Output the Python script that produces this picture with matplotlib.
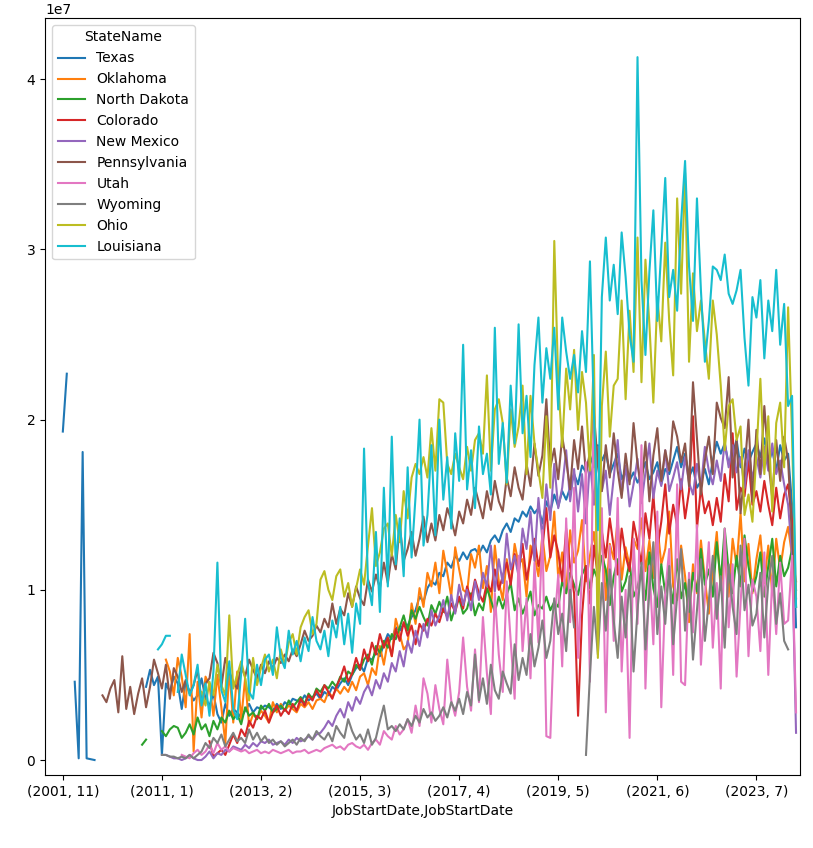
import numpy as np
import matplotlib
matplotlib.use("Agg")
import matplotlib.pyplot as plt

N = None
# (year, month) index: sparse early records, then monthly from 2011-01 to 2024-05
early_dates = [(2001, 11), (2001, 12), (2002, 3), (2002, 8), (2003, 1), (2003, 6), (2004, 2),
               (2004, 9), (2005, 3), (2005, 10), (2006, 2), (2006, 7), (2006, 11), (2007, 3),
               (2007, 8), (2007, 12), (2008, 4), (2008, 8), (2009, 1), (2009, 5), (2009, 9),
               (2010, 1), (2010, 5), (2010, 9), (2010, 12)]
monthly_dates = [(2011 + m // 12, m % 12 + 1) for m in range(161)]
dates = early_dates + monthly_dates

# values in millions; *_pre = early dates, main = monthly up to late 2023,
# *_late = the last months before the final three values
texas_pre = [19.3, 22.7, N, 4.6, 0.1, 18.1, 0.1, 0.05, 0.0] + [N] * 11 + [N, 4.3, 5.3, 4.4, 4.9]
texas = [0.3, 4.5, 4.0, 4.9, 4.5, 3.0, 4.6, 4.0, 3.5, 3.8,
         4.8, 3.6, 3.2, 3.9, 2.7, 2.2, 3.3, 2.6, 3.0, 2.8,
         2.5, 2.9, 3.3, 2.8, 3.1, 3.0, 3.2, 3.1, 2.9, 3.3,
         3.0, 3.4, 3.2, 3.6, 3.5, 3.4, 3.8, 3.5, 3.7, 3.9,
         3.6, 4.0, 3.8, 4.3, 4.1, 4.5, 4.8, 4.4, 5.0, 5.4,
         5.6, 5.2, 6.0, 5.9, 6.3, 6.1, 6.8, 7.4, 7.1, 7.8,
         7.6, 8.0, 7.9, 8.4, 8.8, 9.6, 9.3, 10.1, 10.5, 10.3,
         11.0, 10.8, 11.6, 11.3, 12.0, 11.7, 12.2, 11.8, 12.3, 12.4,
         12.1, 12.6, 12.2, 12.9, 13.2, 12.8, 13.5, 13.9, 13.4, 14.2,
         14.0, 14.6, 14.3, 14.9, 14.5, 14.8, 13.9, 15.2, 14.6, 15.6,
         14.9, 15.8, 15.3, 16.0, 16.8, 16.2, 17.3, 16.9, 17.9, 17.2,
         18.5, 17.6, 18.1, 16.8, 17.4, 18.0, 16.5, 17.0, 16.4, 16.9,
         16.3, 16.8, 17.5, 16.5, 16.9, 17.5, 16.2, 17.1, 16.8, 17.6,
         18.4, 17.2, 18.0, 16.6, 17.2, 16.0, 16.4, 17.1, 16.2, 17.6,
         18.7, 18.0, 18.6, 17.4, 18.0, 18.8, 17.2, 18.3, 17.5, 18.1,
         18.0, 15.0, 7.8]
texas_late = [18.6, 17.8, 18.9, 17.4, 18.2, 17.0, 18.5, 17.6]

oklahoma_pre = [N] * 25
oklahoma = [N, 5.9, 5.2, 3.8, 6.0, 4.9, 3.1, 7.4, 0.5, 4.6,
            2.5, 4.9, 4.4, 2.6, 5.0, 3.1, 1.0, 5.4, 2.2, 5.2,
            2.4, 4.8, 2.0, 2.7, 2.4, 2.9, 2.6, 2.2, 3.4, 2.8,
            3.3, 2.9, 3.2, 3.0, 2.8, 3.3, 3.1, 3.4, 3.0, 3.5,
            3.6, 3.4, 4.0, 3.7, 4.2, 3.9, 4.3, 4.0, 4.6, 4.1,
            4.9, 5.1, 4.4, 5.4, 5.0, 6.7, 5.6, 7.0, 6.1, 8.3,
            7.4, 6.5, 6.8, 9.2, 8.0, 10.1, 9.0, 11.0, 10.2, 11.6,
            9.8, 12.3, 11.0, 9.6, 12.5, 11.2, 10.0, 9.8, 12.1, 11.3,
            12.6, 10.1, 11.4, 8.7, 12.6, 10.5, 9.4, 11.8, 10.4, 12.7,
            11.5, 11.8, 9.6, 12.6, 12.0, 10.8, 13.2, 11.1, 12.0, 14.6,
            10.7, 12.2, 9.8, 13.5, 11.6, 12.3, 14.1, 10.5, 12.0, 13.4,
            10.9, 13.6, 9.4, 12.7, 11.8, 14.1, 10.6, 12.5, 11.4, 13.0,
            12.4, 14.2, 11.1, 12.9, 10.7, 13.8, 11.5, 12.4, 14.6, 10.2,
            9.4, 12.6, 10.8, 8.1, 11.5, 9.8, 12.9, 10.6, 8.6, 11.2,
            13.4, 10.0, 12.1, 9.6, 13.0, 11.4, 14.5, 10.5, 12.7, 9.8,
            13.7, 12.0, 10.5]
oklahoma_late = [11.8, 13.2, 10.4, 12.6, 9.8, 13.0, 11.2, 12.8]

north_dakota_pre = [N] * 20 + [0.9, 1.2, N, N, N]
north_dakota = [1.7, 1.4, 1.8, 2.0, 1.9, 1.3, 1.6, 2.1, 1.5, 2.5,
                1.8, 2.1, 1.4, 2.3, 1.8, 2.5, 2.2, 2.9, 2.4, 2.7,
                2.1, 3.1, 2.6, 2.8, 2.4, 3.2, 2.9, 3.3, 2.8, 3.0,
                3.2, 2.9, 3.5, 3.1, 3.4, 3.7, 3.3, 3.9, 3.6, 4.2,
                4.0, 4.4, 4.2, 4.6, 4.3, 4.9, 4.6, 5.2, 5.0, 5.6,
                5.3, 5.9, 6.2, 5.6, 6.7, 6.3, 7.0, 6.6, 7.4, 7.1,
                7.8, 8.5, 7.6, 8.8, 8.3, 9.0, 8.4, 7.9, 9.1, 8.6,
                9.3, 8.7, 9.6, 8.2, 9.0, 9.5, 8.6, 8.9, 9.8, 8.5,
                9.2, 8.8, 10.1, 9.4, 8.7, 9.6, 8.9, 9.7, 10.4, 8.8,
                9.5, 8.6, 9.2, 9.9, 8.5, 9.1, 8.9, 9.6, 8.8, 9.3,
                9.0, 10.5, 9.8, 11.0, 10.3, 9.7, 10.9, 11.4, 10.1, 11.2,
                10.6, 12.0, 11.2, 9.1, 10.8, 11.8, 9.9, 10.5, 11.6, 9.6,
                10.2, 11.1, 9.4, 12.2, 10.1, 9.0, 11.5, 9.8, 10.7, 9.2,
                11.8, 9.5, 10.4, 8.7, 11.0, 9.9, 12.4, 10.3, 11.2, 9.6,
                12.8, 10.5, 13.6, 11.1, 9.8, 12.0, 10.2, 13.2, 11.4, 9.9,
                11.3, 12.4, 10.0]
north_dakota_late = [10.8, 12.2, 9.6, 11.4, 13.0, 10.2, 12.0, 10.8]

colorado_pre = [N] * 25
colorado = [N] * 12 + [1.1, 0.2, 0.4, 0.6, 0.3, 0.9, 1.5, 1.0,
            1.8, 1.4, 2.3, 1.9, 2.6, 2.4, 2.9, 2.2, 2.8, 3.2,
            2.6, 3.0, 2.7, 3.3, 2.9, 3.6, 3.2, 3.8, 3.5, 4.1,
            3.7, 4.4, 4.0, 3.6, 4.3, 4.8, 5.5, 4.6, 5.1, 6.0,
            5.3, 6.5, 5.8, 6.9, 6.2, 7.4, 6.6, 7.2, 6.1, 7.7,
            7.0, 8.1, 7.3, 7.9, 6.8, 8.0, 7.6, 8.3, 7.9, 8.6,
            8.1, 8.9, 8.4, 9.2, 8.7, 9.6, 8.9, 10.2, 9.4, 10.6,
            9.8, 9.3, 10.4, 9.9, 11.2, 10.0, 10.8, 11.6, 10.3, 12.1,
            11.0, 12.7, 10.6, 11.8, 13.0, 11.4, 12.4, 14.8, 11.9, 13.2,
            12.2, 10.5, 13.6, 11.3, 9.8, 2.6, 8.5, 11.4, 9.2, 12.6,
            10.8, 13.4, 11.9, 14.2, 12.5, 10.9, 13.6, 12.0, 11.1, 14.0,
            12.8, 11.5, 14.5, 13.0, 15.6, 12.4, 14.0, 16.2, 13.3, 15.0,
            13.8, 16.5, 14.2, 15.8, 20.2, 13.6, 16.0, 14.5, 15.2, 13.8,
            15.4, 14.0, 16.8, 15.2, 19.2, 14.7, 16.0, 15.5, 17.6, 15.0,
            16.2, 14.0, 9.5]
colorado_late = [15.8, 14.6, 16.4, 15.0, 13.8, 16.0, 14.2, 15.6]

new_mexico_pre = [N] * 25
new_mexico = [0.3, 0.3, 0.2, 0.1, 0.1, 0.0, 0.1, 0.3, 0.1, 0.0,
              0.0, 0.2, 0.5, 0.1, 0.4, 0.3, 0.6, 0.5, 0.8, 0.7,
              0.6, 0.9, 0.7, 1.0, 0.8, 1.1, 1.0, 1.2, 0.9, 1.0,
              1.1, 0.9, 1.2, 1.0, 1.3, 1.1, 1.2, 1.4, 1.2, 1.5,
              1.6, 1.9, 2.3, 2.0, 2.6, 3.0, 2.5, 3.4, 2.9, 3.7,
              3.3, 4.0, 4.4, 3.8, 4.7, 4.2, 5.1, 4.6, 5.7, 5.2,
              6.4, 5.5, 7.0, 6.3, 7.6, 6.7, 8.0, 7.2, 8.8, 7.9,
              8.5, 9.4, 8.2, 9.7, 8.6, 10.3, 9.1, 10.0, 8.8, 10.5,
              9.4, 11.0, 10.2, 12.6, 9.9, 11.8, 10.4, 13.3, 11.2, 12.0,
              10.8, 13.6, 12.4, 14.6, 11.7, 15.4, 13.0, 16.2, 14.1, 17.4,
              14.8, 16.0, 18.2, 15.2, 17.1, 14.6, 16.8, 13.9, 17.6, 15.0,
              18.4, 15.8, 17.0, 14.4, 16.6, 18.8, 15.6, 17.3, 14.9, 16.2,
              17.7, 15.1, 16.9, 18.6, 15.4, 17.0, 16.1, 18.2, 15.8, 16.6,
              17.5, 15.9, 17.8, 16.3, 15.6, 17.4, 16.0, 18.4, 17.0, 16.2,
              17.6, 16.4, 18.7, 17.2, 18.5, 16.9, 17.8, 16.0, 18.2, 16.5,
              15.0, 12.0, 1.6]
new_mexico_late = [17.8, 16.6, 18.4, 17.0, 18.6, 16.8, 17.6, 16.2]

pennsylvania_pre = [N] * 10 + [3.8, 3.4, 4.2, 4.7, 2.8, 6.1, 3.0, 4.3, 2.7, 3.9,
                               4.8, 3.1, 4.3, 5.9, 5.1]
pennsylvania = [4.2, 5.6, 3.6, 5.4, 4.9, 4.0, 4.7, 3.9, 4.4, 5.3,
                3.5, 4.5, 4.8, 6.3, 5.7, 4.3, 6.0, 5.2, 4.6, 4.2,
                5.5, 4.9, 5.9, 5.3, 4.8, 5.6, 5.1, 5.8, 5.4, 6.0,
                5.7, 6.2, 5.8, 6.5, 6.1, 6.8, 7.6, 7.0, 7.3, 7.9,
                7.5, 8.3, 7.8, 9.2, 8.0, 8.9, 8.5, 9.8, 9.0, 10.2,
                9.5, 9.1, 10.6, 9.9, 10.9, 10.1, 11.6, 10.4, 12.1, 11.2,
                13.8, 11.7, 12.4, 13.4, 12.0, 13.0, 14.3, 12.8, 13.9, 12.9,
                14.4, 13.5, 14.8, 14.1, 13.2, 14.6, 13.9, 15.3, 14.4, 16.0,
                15.1, 14.2, 15.8, 14.7, 16.4, 15.2, 14.6, 16.6, 15.5, 17.2,
                16.0, 15.3, 17.4, 16.1, 18.6, 16.7, 17.9, 21.2, 17.2, 18.3,
                16.5, 19.0, 17.6, 15.9, 18.8, 17.1, 19.6, 16.8, 18.1, 20.4,
                17.3, 15.8, 18.5, 16.6, 19.2, 17.0, 15.4, 18.0, 16.2, 19.8,
                17.4, 16.0, 18.7, 15.2, 17.9, 19.5, 16.4, 18.2, 17.0, 19.9,
                19.0, 17.5, 18.6, 16.1, 22.2, 18.9, 15.6, 17.6, 19.0, 16.8,
                21.0, 20.1, 19.5, 22.5, 16.6, 18.8, 14.5, 17.0, 20.0, 15.2,
                17.6, 13.0, 9.0]
pennsylvania_late = [19.4, 16.8, 20.8, 17.6, 15.4, 18.8, 16.4, 19.0]

utah_pre = [N] * 25
utah = [N, N, N, N, N, 0.3, 0.2, 0.1, 0.4, 0.6,
        0.3, 0.5, 0.9, 0.4, 1.0, 0.6, 0.8, 0.5, 0.7, 0.6,
        0.5, 0.6, 0.4, 0.5, 0.6, 0.4, 0.5, 0.4, 0.6, 0.5,
        0.4, 0.5, 0.6, 0.4, 0.5, 0.5, 0.6, 0.4, 0.5, 0.6,
        0.5, 0.7, 0.8, 0.9, 0.7, 0.8, 0.6, 0.9, 1.0, 0.8,
        0.7, 0.9, 0.6, 1.0, 1.2, 0.9, 1.7, 1.4, 1.2, 2.0,
        1.5, 1.8, 2.4, 1.6, 3.2, 2.0, 4.8, 3.9, 2.2, 4.4,
        3.0, 2.1, 5.9, 3.5, 2.6, 4.0, 7.2, 4.3, 2.9, 6.5,
        3.4, 8.4, 5.1, 2.7, 9.8, 6.2, 4.0, 10.5, 7.0, 3.6,
        12.0, 6.4, 9.5, 4.8, 11.6, 6.9, 13.5, 1.4, 1.3, 7.8,
        10.9, 5.5, 14.2, 8.1, 16.0, 6.0, 11.0, 17.5, 4.6, 21.6,
        9.0, 14.8, 2.8, 12.6, 7.0, 15.4, 5.2, 10.0, 1.3, 13.0,
        8.0, 18.5, 4.2, 11.4, 6.8, 14.6, 3.1, 9.8, 12.4, 5.0,
        16.2, 4.6, 4.4, 11.0, 7.5, 13.8, 5.6, 9.6, 12.8, 6.6,
        10.4, 4.2, 13.6, 7.8, 11.5, 4.9, 9.2, 13.0, 6.1, 10.6,
        8.2, 12.0, 2.8]
utah_late = [9.6, 6.4, 12.2, 5.0, 10.8, 7.4, 11.6, 8.0]

wyoming_pre = [N] * 25
wyoming = [0.3, 0.3, 0.2, 0.2, 0.1, 0.2, 0.1, 0.3, 0.1, 0.3,
           0.5, 1.0, 0.7, 1.3, 1.0, 1.5, 0.8, 1.2, 1.6, 1.1,
           1.3, 1.0, 1.8, 1.2, 1.6, 1.1, 1.4, 1.0, 1.2, 0.9,
           1.1, 0.8, 1.0, 1.2, 0.9, 1.3, 1.1, 1.5, 1.2, 1.7,
           1.4, 1.2, 1.6, 1.1, 2.0, 1.6, 1.3, 2.4, 1.7, 1.2,
           1.5, 1.0, 1.8, 0.9, 1.3, 2.3, 3.2, 1.8, 2.0, 1.7,
           2.1, 1.8, 2.4, 2.0, 2.6, 2.2, 3.0, 2.5, 2.8, 2.3,
           2.6, 3.1, 2.5, 3.4, 2.9, 3.6, 2.7, 4.0, 3.2, 6.2,
           3.5, 4.8, 3.3, 5.6, 4.1, 3.6, 5.2, 4.5, 3.9, 6.8,
           4.7, 6.0, 5.0, 7.4, 5.5, 6.6, 8.2, 6.0, 7.0, 9.5,
           7.4, 8.6, 6.4, 10.0, 7.8, N, N, 0.3, 5.0, 9.0,
           6.2, 10.4, 7.6, 11.2, 8.2, 6.0, 9.6, 7.2, 10.8, 5.2,
           8.8, 11.6, 6.5, 9.9, 12.8, 7.4, 10.2, 8.0, 11.4, 6.8,
           9.6, 12.4, 7.6, 10.6, 5.9, 8.8, 11.8, 7.0, 9.4, 12.0,
           8.3, 10.8, 6.6, 11.5, 9.0, 7.4, 12.6, 8.8, 10.3, 7.9,
           6.5, N, N]
wyoming_late = [8.6, 11.0, 7.2, 10.4, 12.0, 8.0, 9.8, 7.0]

ohio_pre = [N] * 25
ohio = [N] * 10 + [4.0, 3.2, 4.6, 3.8, 5.6, 4.4, 3.8, 8.5, 4.2, 5.0,
        5.8, 4.8, 3.5, 6.0, 4.4, 5.4, 6.2, 5.2, 5.9, 4.8,
        6.5, 5.6, 6.9, 7.4, 6.2, 7.8, 8.4, 8.8, 7.4, 8.0,
        10.6, 11.1, 10.0, 9.4, 10.8, 11.2, 9.6, 10.4, 9.0, 10.1,
        11.2, 10.3, 12.6, 14.8, 11.4, 12.2, 13.6, 13.9, 12.0, 14.4,
        12.8, 15.8, 14.2, 16.6, 17.4, 16.8, 17.8, 16.6, 19.5, 17.0,
        21.2, 21.0, 17.4, 16.8, 18.0, 17.2, 16.5, 18.4, 17.0, 18.8,
        19.2, 18.0, 22.6, 17.0, 20.6, 21.2, 19.8, 16.2, 20.6, 18.4,
        19.6, 22.0, 16.8, 21.4, 18.6, 17.0, 15.4, 20.2, 16.0, 30.5,
        22.2, 18.4, 23.0, 20.6, 24.1, 19.4, 22.8, 21.0, 17.0, 23.8,
        6.0, 20.8, 24.0, 19.0, 22.0, 22.4, 27.0, 21.2, 26.4, 22.8,
        30.7, 22.2, 29.4, 25.6, 21.0, 27.2, 24.6, 30.4, 25.8, 22.6,
        33.0, 27.4, 34.5, 23.4, 28.6, 25.2, 27.0, 24.6, 22.4, 27.0,
        25.0, 22.0, 18.2, 20.8, 21.2, 18.8, 19.6, 14.4, 15.6, 14.0,
        26.6, 19.0, 9.0]
ohio_late = [18.0, 22.4, 16.8, 20.2, 14.6, 19.8, 21.0, 17.2]

louisiana_pre = [N] * 24 + [6.5]
louisiana = [6.8, 7.3, 7.3, N, 4.0, 6.2, 5.0, 3.8, 4.4, 5.6,
             3.2, 4.5, 2.6, 5.2, 11.6, 4.1, 3.4, 5.8, 3.0, 2.4,
             5.1, 8.3, 4.0, 3.6, 5.6, 4.4, 5.9, 6.2, 5.0, 7.8,
             6.0, 5.4, 7.6, 6.2, 7.0, 5.8, 7.2, 6.4, 8.4, 7.0,
             6.5, 7.6, 6.1, 8.2, 7.2, 9.0, 6.8, 8.6, 6.3, 9.2,
             8.0, 18.3, 10.4, 9.1, 13.4, 8.7, 16.0, 10.2, 19.0, 11.5,
             14.2, 10.8, 17.2, 11.9, 15.5, 20.0, 12.6, 14.4, 18.5, 13.2,
             20.0, 15.3, 17.8, 13.6, 19.2, 16.4, 24.4, 15.9, 18.2, 14.8,
             19.6, 16.8, 18.0, 15.6, 25.4, 17.4, 19.8, 16.3, 22.0, 18.6,
             25.6, 19.2, 21.4, 17.8, 23.2, 26.0, 21.0, 24.2, 22.4, 25.4,
             20.6, 26.0, 24.0, 22.4, 23.8, 21.6, 25.2, 22.8, 29.3, 20.4,
             13.5, 27.2, 30.7, 27.0, 29.1, 26.2, 31.0, 28.4, 25.0, 23.4,
             41.3, 28.2, 23.8, 28.7, 32.3, 25.8, 30.0, 34.2, 27.2, 28.8,
             26.4, 31.6, 35.2, 29.0, 25.8, 33.0, 27.6, 23.4, 25.8, 29.0,
             28.8, 28.2, 29.7, 27.4, 26.8, 27.6, 28.8, 24.8, 22.0, 27.2,
             20.8, 21.4, 9.0]
louisiana_late = [26.0, 28.2, 23.6, 27.0, 25.2, 28.8, 24.4, 26.8]

SERIES = [
    ("Texas", texas_pre, texas, texas_late, "#1f77b4"),
    ("Oklahoma", oklahoma_pre, oklahoma, oklahoma_late, "#ff7f0e"),
    ("North Dakota", north_dakota_pre, north_dakota, north_dakota_late, "#2ca02c"),
    ("Colorado", colorado_pre, colorado, colorado_late, "#d62728"),
    ("New Mexico", new_mexico_pre, new_mexico, new_mexico_late, "#9467bd"),
    ("Pennsylvania", pennsylvania_pre, pennsylvania, pennsylvania_late, "#8c564b"),
    ("Utah", utah_pre, utah, utah_late, "#e377c2"),
    ("Wyoming", wyoming_pre, wyoming, wyoming_late, "#7f7f7f"),
    ("Ohio", ohio_pre, ohio, ohio_late, "#bcbd22"),
    ("Louisiana", louisiana_pre, louisiana, louisiana_late, "#17becf"),
]

fig = plt.figure(figsize=(8.13, 8.48), dpi=100)
ax = fig.add_axes([45 / 813, 73 / 848, 755 / 813, 757 / 848])
x = np.arange(len(dates))
for name, pre, main, late, color in SERIES:
    full = pre + main[:-3] + late + main[-3:]
    vals = np.array([np.nan if v is None else v * 1e6 for v in full], dtype=float)
    ax.plot(x, vals, color=color, label=name, lw=1.5)

ticks = list(range(0, len(dates), 25))
ax.set_xticks(ticks)
ax.set_xticklabels([f"({dates[t][0]}, {dates[t][1]})" for t in ticks])
ax.set_xlim(-4.5, 186)
ax.set_ylim(-0.088e7, 4.36e7)
ax.set_yticks([0, 1e7, 2e7, 3e7, 4e7])
ax.set_xlabel("JobStartDate,JobStartDate")
ax.legend(title="StateName", loc="upper left")
fig.savefig("out.png", dpi=100)
